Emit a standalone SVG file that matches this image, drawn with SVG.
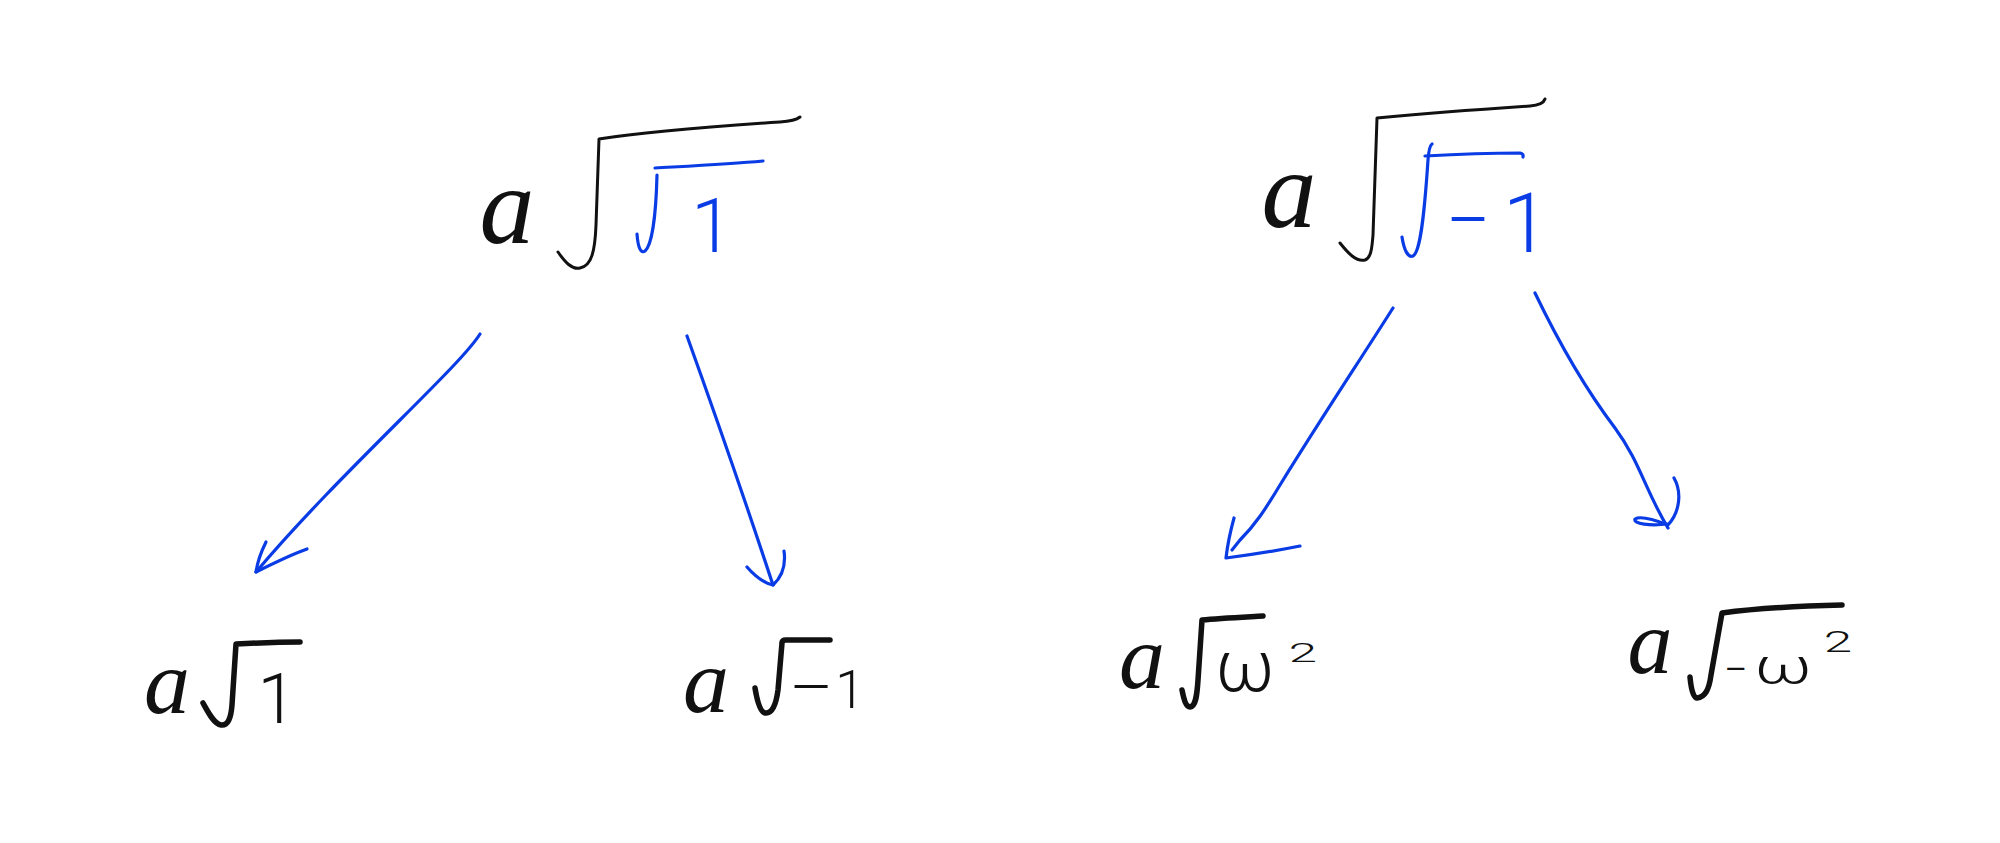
<svg xmlns="http://www.w3.org/2000/svg" width="2000" height="843" viewBox="0 0 2000 843">
  <style>
    .ink { fill: none; stroke: #111111; stroke-linecap: round; stroke-linejoin: round; }
    .thin { stroke-width: 3; }
    .thick { stroke-width: 5.5; }
    .blue { fill: none; stroke: #0a3ce6; stroke-width: 3.2; stroke-linecap: round; stroke-linejoin: round; }
    .va { font-family: "Liberation Serif", serif; font-style: italic; fill: #111111; text-anchor: middle; }
    .num { font-family: Roboto, "Liberation Sans", sans-serif; font-weight: 300; fill: #111111; text-anchor: middle; }
    .bnum { font-family: Roboto, "Liberation Sans", sans-serif; font-weight: 300; fill: #0a3ce6; text-anchor: middle; }
  </style>
  <rect x="0" y="0" width="2000" height="843" fill="#ffffff"/>

  <g id="node-top-left">
    <text class="va" x="507" y="243" font-size="110">a</text>
    <path class="ink thin" d="M558,252 C565,262 572,270 580,268 C592,266 595,250 596,225 L599,139 C650,131 720,126 780,122 Q795,121 800,117"/>
    <path class="blue" d="M637,234 C638,248 641,254 645,251 C652,245 656,215 657,175"/>
    <path class="blue" d="M655,168 C690,166 730,164 763,161"/>
    <text class="bnum" x="712" y="252" font-size="76">1</text>
  </g>

  <g id="node-top-right">
    <text class="va" x="1289" y="227" font-size="110">a</text>
    <path class="ink thin" d="M1340,243 C1348,253 1356,262 1365,260 C1371,258 1372,248 1373,235 L1377,118 C1430,113 1500,108 1530,106 Q1543,105 1545,99"/>
    <path class="blue" d="M1402,237 C1404,250 1408,258 1413,256 C1420,252 1424,220 1428,160 Q1429,146 1432,144"/>
    <path class="blue" d="M1425,156 C1460,154 1500,153 1520,153 Q1524,154 1523,157"/>
    <text class="bnum" x="1468" y="248" font-size="80">−</text>
    <text class="bnum" x="1526" y="252" font-size="84">1</text>
  </g>

  <g id="node-b1">
    <text class="va" x="167" y="713" font-size="92">a</text>
    <path class="ink thick" d="M203,703 C208,712 214,724 221,725 C228,726 231,718 232,705 L236,644 C255,643 280,642 300,642"/>
    <text class="num" x="277" y="723" font-size="70" font-weight="400">1</text>
  </g>

  <g id="node-b2">
    <text class="va" x="706" y="712" font-size="92">a</text>
    <path class="ink thick" d="M755,688 C757,700 760,712 765,713 C772,714 776,705 778,690 L782,643 Q782,640 786,640 L830,640"/>
    <text class="num" x="0" y="0" font-size="60" font-weight="400" transform="translate(811,708) scale(1.35,1)">−</text>
    <text class="num" x="850" y="708" font-size="53" font-weight="400">1</text>
  </g>

  <g id="node-b3">
    <text class="va" x="1142" y="688" font-size="92">a</text>
    <path class="ink thick" d="M1182,690 C1184,700 1186,707 1190,707 C1196,706 1197,695 1198,680 L1202,620 C1220,618 1245,617 1263,616"/>
    <text class="num" x="1245" y="691" font-size="72" font-weight="400">ω</text>
    <text class="num" x="0" y="0" font-size="30" font-weight="400" transform="translate(1303,662) scale(1.7,0.85)">2</text>
  </g>

  <g id="node-b4">
    <text class="va" x="1650" y="673" font-size="90">a</text>
    <path class="ink thick" d="M1690,677 C1691,688 1693,698 1697,698 C1705,697 1709,690 1711,675 L1722,613 C1760,608 1800,606 1842,605"/>
    <text class="num" x="1736" y="684" font-size="42" font-weight="400">−</text>
    <text class="num" x="0" y="0" font-size="56" font-weight="400" transform="translate(1783,684) scale(1.25,0.9)">ω</text>
    <text class="num" x="0" y="0" font-size="32" font-weight="400" transform="translate(1838,652) scale(1.6,0.95)">2</text>
  </g>

  <g id="connectors">
    <path class="blue" d="M480,334 C470,350 440,380 400,420 C350,470 300,520 256,572"/>
    <path class="blue" d="M266,542 Q258,558 256,572 C270,565 290,555 307,549"/>

    <path class="blue" d="M687,336 C710,400 745,500 773,585"/>
    <path class="blue" d="M747,567 Q760,582 773,585 Q787,572 784,551"/>

    <path class="blue" d="M1393,308 C1360,360 1320,420 1280,485 C1265,510 1255,525 1240,540 L1232,550"/>
    <path class="blue" d="M1234,518 Q1228,540 1226,558 C1250,555 1280,550 1300,546"/>

    <path class="blue" d="M1535,293 C1560,345 1590,395 1615,428 C1640,462 1645,490 1668,528"/>
    <path class="blue" d="M1674,478 C1682,492 1680,512 1668,525 C1655,520 1640,516 1635,519 C1633,524 1650,526 1668,524"/>
  </g>
</svg>
